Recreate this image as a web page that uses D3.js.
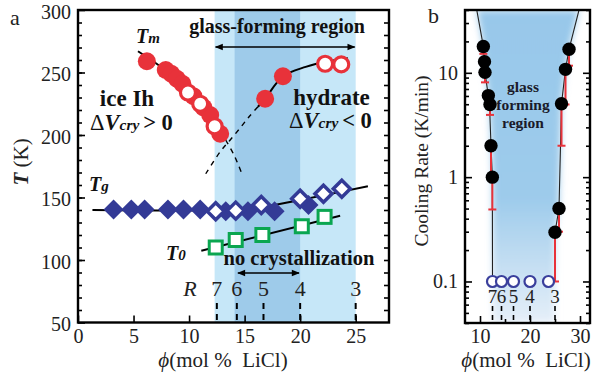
<!DOCTYPE html>
<html>
<head>
<meta charset="utf-8">
<script src="https://cdn.jsdelivr.net/npm/d3@7"></script>
<style>
  body { margin: 0; background: #fff; }
  svg { font-family: "Liberation Serif", "Times New Roman", serif; }
</style>
</head>
<body>
<div id="chart"></div>
<script>
// ---- panel a data: [phi (mol% LiCl), T (K)]
const tmIceFilled = [[6.2, 259], [7.9, 252], [8.4, 249], [8.9, 245], [9.4, 241], [10.4, 231], [11.3, 222], [11.9, 216], [12.8, 201]];
const tmIceOpen = [[9.9, 234], [11.0, 225], [12.3, 207]];
const tmHydFilled = [[16.85, 229], [18.45, 247]];
const tmHydOpen = [[22.25, 257], [23.7, 256.5]];
const tgFilled = [[3.2, 140.5], [4.8, 140.5], [6.0, 140.5], [8.1, 140.5], [9.5, 140.5], [11.0, 140.5], [13.3, 139], [15.3, 139], [17.7, 139], [20.75, 144]];
const tgOpen = [[12.4, 139], [14.2, 139.5], [16.5, 144], [20.0, 149], [22.1, 153], [23.75, 157]];
const t0Open = [[12.4, 110], [14.2, 116], [16.6, 120], [20.15, 127], [22.2, 134.5]];

// fitted guide curves
const iceFitSolid = [[5.4, 267], [8, 251], [10, 235], [12, 213], [13.3, 196]];
const iceFitDash = [[13.3, 196], [14.1, 183], [14.8, 168]];
const hydFitDash = [[11.5, 169], [12.8, 186.6], [13.7, 196], [14.6, 205.6], [15.4, 214.6], [16.2, 222.6]];
const hydFitSolid = [[16.2, 222.6], [16.85, 229], [18.45, 247], [20.5, 254.5], [22.5, 259], [24.3, 261.5]];
const tgFit = [[1.3, 140], [13, 140], [16, 141.5], [20, 148], [26.1, 159]];
const t0Fit = [[11.1, 107.4], [23.6, 135.4]];

const lightBand = [12.3, 25];
const darkBand = [14.1, 20];
const rValues = [7, 6, 5, 4, 3];
const rPhi = [12.5, 14.3, 16.7, 20, 25];

// ---- panel b data: [phi, cooling rate (K/min), lower error]
const rateLeft = [[10.67, 17.9, 15.2], [10.9, 12.8, 10.3], [11.0, 10.1, 8.1], [11.67, 6.05, null], [12.0, 4.97, 3.95], [12.2, 2.0, 1.0], [12.47, 1.0, 0.49]];
const rateRight = [[27.8, 16.8, 11.7], [27.1, 10.8, 4.97], [26.3, 5.05, 2.0], [25.8, 0.5, 0.3], [25.0, 0.296, 0.1]];
const boundLeft = [[9.35, 40], [10.67, 17.9], [11.0, 10.1], [11.9, 5], [12.2, 2.0], [12.47, 1.0], [12.5, 0.1]];
const boundRight = [[29.8, 40], [27.8, 16.8], [27.1, 10.8], [26.3, 5.05], [25.8, 0.5], [25.0, 0.296], [24.95, 0.1]];
const noCryst = [12.5, 14.3, 16.7, 20, 23.7];
const rateTicks = [0.1, 1, 10];

const W = 592, H = 378;
const red = "#e8323a", navy = "#333a96", green = "#0aa650";
const xTitle = "(mol %\u00A0 LiCl)";

const svg = d3.select("#chart").append("svg")
  .attr("width", W).attr("height", H).attr("viewBox", [0, 0, W, H]);

// ================= panel a =================
const x = d3.scaleLinear().domain([0, 28]).range([78, 389]);
const y = d3.scaleLinear().domain([50, 300]).range([322.5, 10]);

const a = svg.append("g");
a.append("rect").attr("x", x(lightBand[0])).attr("y", y(300))
  .attr("width", x(lightBand[1]) - x(lightBand[0])).attr("height", y(50) - y(300))
  .attr("fill", "#c6e7f8");
a.append("rect").attr("x", x(darkBand[0])).attr("y", y(300))
  .attr("width", x(darkBand[1]) - x(darkBand[0])).attr("height", y(50) - y(300))
  .attr("fill", "#9ecbea");

// axes
a.append("g").attr("transform", `translate(${x(0)},0)`)
  .call(d3.axisLeft(y).tickValues(d3.range(60, 300, 10)).tickSize(-4).tickFormat(""))
  .call(g => g.select(".domain").remove());
a.append("g").attr("transform", `translate(${x(0)},0)`)
  .call(d3.axisLeft(y).tickValues(d3.range(50, 301, 50)).tickSize(-7).tickPadding(7))
  .call(g => g.select(".domain").remove())
  .call(g => g.selectAll("text").attr("font-size", 20).attr("dy", "0.4em").attr("fill", "#222").attr("font-family", "Liberation Serif"));
a.append("g").attr("transform", `translate(${x(28)},0)`)
  .call(d3.axisRight(y).tickValues(d3.range(60, 300, 10)).tickSize(-5).tickFormat(""))
  .call(g => g.select(".domain").remove());
a.append("g").attr("transform", `translate(0,${y(50)})`)
  .call(d3.axisBottom(x).tickValues(d3.range(0, 26, 5)).tickSize(-7).tickPadding(6))
  .call(g => g.select(".domain").remove())
  .call(g => g.selectAll("text").attr("font-size", 20).attr("fill", "#222").attr("font-family", "Liberation Serif"));
a.selectAll(".tick line").attr("stroke-width", 1.6);

// R dashed ticks and labels
a.selectAll(".rtick").data(rPhi).join("line")
  .attr("x1", d => x(d)).attr("x2", d => x(d)).attr("y1", 303).attr("y2", y(50))
  .attr("stroke", "#000").attr("stroke-width", 2).attr("stroke-dasharray", "6,5");
a.selectAll(".rlab").data(rValues).join("text")
  .attr("x", (d, i) => x(rPhi[i])).attr("y", 296).attr("text-anchor", "middle")
  .attr("font-size", 22).attr("fill", "#222").text(d => d);
a.append("text").attr("x", 190).attr("y", 296).attr("text-anchor", "middle")
  .attr("font-size", 22).attr("font-style", "italic").attr("fill", "#222").text("R");

// guide curves
const line = d3.line().x(d => x(d[0])).y(d => y(d[1])).curve(d3.curveCatmullRom);
a.append("path").attr("d", line(iceFitSolid)).attr("fill", "none").attr("stroke", "#000").attr("stroke-width", 2);
a.append("path").attr("d", line(iceFitDash)).attr("fill", "none").attr("stroke", "#000").attr("stroke-width", 1.4).attr("stroke-dasharray", "5,5");
a.append("path").attr("d", line(hydFitDash)).attr("fill", "none").attr("stroke", "#000").attr("stroke-width", 1.4).attr("stroke-dasharray", "5,5");
a.append("path").attr("d", line(hydFitSolid)).attr("fill", "none").attr("stroke", "#000").attr("stroke-width", 2);
a.append("path").attr("d", line(tgFit)).attr("fill", "none").attr("stroke", "#000").attr("stroke-width", 2);
a.append("path").attr("d", line(t0Fit)).attr("fill", "none").attr("stroke", "#000").attr("stroke-width", 2);

// markers
const diamond = r => `M0,${-r}L${r},0L0,${r}L${-r},0Z`;
a.selectAll(".tgf").data(tgFilled).join("path")
  .attr("transform", d => `translate(${x(d[0])},${y(d[1])})`).attr("d", diamond(10)).attr("fill", navy);
a.selectAll(".tgo").data(tgOpen).join("path")
  .attr("transform", d => `translate(${x(d[0])},${y(d[1])})`).attr("d", diamond(8.5))
  .attr("fill", "#fff").attr("stroke", navy).attr("stroke-width", 3.5).attr("stroke-linejoin", "miter");
a.selectAll(".t0").data(t0Open).join("rect")
  .attr("x", d => x(d[0]) - 6.5).attr("y", d => y(d[1]) - 6.5).attr("width", 13).attr("height", 13)
  .attr("fill", "#fff").attr("stroke", green).attr("stroke-width", 3);
a.selectAll(".tmf").data(tmIceFilled.concat(tmHydFilled)).join("circle")
  .attr("cx", d => x(d[0])).attr("cy", d => y(d[1])).attr("r", 9).attr("fill", red);
a.selectAll(".tmo").data(tmIceOpen.concat(tmHydOpen)).join("circle")
  .attr("cx", d => x(d[0])).attr("cy", d => y(d[1])).attr("r", 7.5)
  .attr("fill", "#fff").attr("stroke", red).attr("stroke-width", 3.2);

// arrows
const defs = svg.append("defs");
defs.append("marker").attr("id", "ah").attr("viewBox", "0 -5 10 10").attr("refX", 9).attr("refY", 0)
  .attr("markerWidth", 10).attr("markerHeight", 8).attr("markerUnits", "userSpaceOnUse").attr("orient", "auto-start-reverse")
  .append("path").attr("d", "M0,-4L10,0L0,4Z").attr("fill", "#000");
a.append("line").attr("x1", x(lightBand[0]) + 1).attr("x2", x(lightBand[1]) - 1).attr("y1", 47).attr("y2", 47)
  .attr("stroke", "#000").attr("stroke-width", 1.5).attr("marker-start", "url(#ah)").attr("marker-end", "url(#ah)");
a.append("line").attr("x1", x(14.4)).attr("x2", x(19.9)).attr("y1", 273).attr("y2", 273)
  .attr("stroke", "#000").attr("stroke-width", 1.5).attr("marker-start", "url(#ah)").attr("marker-end", "url(#ah)");

// labels
const lab = (px, py, size, parts, anchor) => {
  const t = a.append("text").attr("x", px).attr("y", py).attr("font-size", size)
    .attr("font-weight", "bold").attr("fill", "#111").attr("text-anchor", anchor || "start");
  parts.forEach(p => {
    const s = t.append("tspan").text(p.t);
    if (p.i) s.attr("font-style", "italic");
    if (p.s) s.attr("font-size", p.s);
    if (p.w) s.attr("font-weight", p.w);
  });
  return t;
};
lab(277, 33, 20, [{ t: "glass-forming region" }], "middle");
lab(127, 106, 23, [{ t: "ice Ih" }], "middle");
lab(90, 130, 22.5, [{ t: "Δ", w: "normal" }, { t: "V", i: 1 }, { t: "cry ", i: 1, s: 15.5 }, { t: "> 0" }]);
lab(331.5, 105, 23, [{ t: "hydrate" }], "middle");
lab(289, 128, 22.5, [{ t: "Δ", w: "normal" }, { t: "V", i: 1 }, { t: "cry ", i: 1, s: 15.5 }, { t: "< 0" }]);
lab(299, 265, 20.5, [{ t: "no crystallization" }], "middle");
lab(136, 43, 20, [{ t: "T", i: 1 }, { t: "m", i: 1, s: 15 }]);
lab(89, 191, 20, [{ t: "T", i: 1 }, { t: "g", i: 1, s: 15 }]);
lab(166, 260, 20, [{ t: "T", i: 1 }, { t: "0", i: 1, s: 15 }]);

a.append("text").attr("transform", "translate(28,162) rotate(-90)").attr("text-anchor", "middle")
  .attr("font-size", 21).attr("fill", "#222")
  .call(t => { t.append("tspan").attr("font-style", "italic").attr("font-weight", "bold").text("T"); t.append("tspan").text(" (K)"); });
a.append("text").attr("x", 223).attr("y", 367).attr("text-anchor", "middle").attr("font-size", 21).attr("fill", "#222")
  .call(t => { t.append("tspan").attr("font-style", "italic").text("ϕ"); t.append("tspan").text(xTitle); });
svg.append("text").attr("x", 10).attr("y", 25).attr("font-size", 22).attr("fill", "#222").text("a");

a.append("rect").attr("x", x(0)).attr("y", y(300)).attr("width", x(28) - x(0)).attr("height", y(50) - y(300))
  .attr("fill", "none").attr("stroke", "#000").attr("stroke-width", 2.4);

// ================= panel b =================
const xr = d3.scaleLinear().domain([7, 32]).range([465, 590]);
const yr = d3.scaleLog().domain([0.04, 40]).range([323, 10]);
const b = svg.append("g");

defs.append("clipPath").attr("id", "clipb").append("rect")
  .attr("x", xr(7)).attr("y", yr(40)).attr("width", xr(32) - xr(7)).attr("height", yr(0.04) - yr(40));
const grad = defs.append("linearGradient").attr("id", "gb")
  .attr("gradientUnits", "userSpaceOnUse").attr("x1", 0).attr("x2", 0).attr("y1", yr(40)).attr("y2", yr(0.04));
grad.append("stop").attr("offset", 0).attr("stop-color", "#98c8ea");
grad.append("stop").attr("offset", 0.6).attr("stop-color", "#9dcbeb");
grad.append("stop").attr("offset", 1).attr("stop-color", "#e6eff9");
defs.append("filter").attr("id", "blur").attr("x", -0.2).attr("y", -0.2).attr("width", 1.4).attr("height", 1.4)
  .append("feGaussianBlur").attr("stdDeviation", 3.5);

const region = boundLeft.concat([[boundLeft[boundLeft.length - 1][0], 0.04], [boundRight[boundRight.length - 1][0], 0.04]])
  .concat(boundRight.slice().reverse());
const lr = d3.line().x(d => xr(d[0])).y(d => yr(d[1]));
b.append("g").attr("clip-path", "url(#clipb)")
  .append("path").attr("d", lr(region) + "Z").attr("fill", "url(#gb)").attr("filter", "url(#blur)");

// axes
const minorLog = [];
[0.01, 0.1, 1, 10].forEach(p => d3.range(2, 10).forEach(k => { const v = p * k; if (v >= 0.04 && v <= 40) minorLog.push(v); }));
[[d3.axisLeft, xr(7), -1], [d3.axisRight, xr(32), 1]].forEach(([ax, px, side]) => {
  b.append("g").attr("transform", `translate(${px},0)`)
    .call(ax(yr).tickValues(minorLog).tickSize(-4).tickFormat(""))
    .call(g => g.select(".domain").remove());
  b.append("g").attr("transform", `translate(${px},0)`)
    .call(ax(yr).tickValues(rateTicks).tickSize(-7).tickPadding(7).tickFormat(side < 0 ? d3.format("~g") : ""))
    .call(g => g.select(".domain").remove())
    .call(g => g.selectAll("text").attr("font-size", 20).attr("fill", "#222").attr("font-family", "Liberation Serif"));
});
b.append("g").attr("transform", `translate(0,${yr(0.04)})`)
  .call(d3.axisBottom(xr).tickValues([15, 25]).tickSize(-4).tickFormat(""))
  .call(g => g.select(".domain").remove());
b.append("g").attr("transform", `translate(0,${yr(0.04)})`)
  .call(d3.axisBottom(xr).tickValues([10, 20, 30]).tickSize(-7).tickPadding(6))
  .call(g => g.select(".domain").remove())
  .call(g => g.selectAll("text").attr("font-size", 20).attr("fill", "#222").attr("font-family", "Liberation Serif"));
b.selectAll(".tick line").attr("stroke-width", 1.6);

// R ticks
b.selectAll(".rtick").data(rPhi).join("line")
  .attr("x1", d => xr(d)).attr("x2", d => xr(d)).attr("y1", 306).attr("y2", yr(0.04))
  .attr("stroke", "#000").attr("stroke-width", 1.6).attr("stroke-dasharray", "5,4");
b.selectAll(".rlab").data(rValues).join("text")
  .attr("x", (d, i) => xr(rPhi[i])).attr("y", 303).attr("text-anchor", "middle")
  .attr("font-size", 19).attr("fill", "#222").text(d => d);

// boundary lines
b.append("g").attr("clip-path", "url(#clipb)").selectAll("path").data([boundLeft, boundRight]).join("path")
  .attr("d", lr).attr("fill", "none").attr("stroke", "#222").attr("stroke-width", 1.1);

// error bars
const pts = rateLeft.concat(rateRight);
b.selectAll(".eb").data(pts.filter(d => d[2] !== null)).join("g").each(function (d) {
  const g = d3.select(this);
  g.append("line").attr("x1", xr(d[0])).attr("x2", xr(d[0])).attr("y1", yr(d[1])).attr("y2", yr(d[2]))
    .attr("stroke", "#e8323a").attr("stroke-width", 2);
  g.append("line").attr("x1", xr(d[0]) - 4).attr("x2", xr(d[0]) + 4).attr("y1", yr(d[2])).attr("y2", yr(d[2]))
    .attr("stroke", "#e8323a").attr("stroke-width", 2);
});
b.selectAll(".pt").data(pts).join("circle")
  .attr("cx", d => xr(d[0])).attr("cy", d => yr(d[1])).attr("r", 6.7).attr("fill", "#000");
b.selectAll(".nc").data(noCryst).join("circle")
  .attr("cx", d => xr(d)).attr("cy", yr(0.1)).attr("r", 5.5)
  .attr("fill", "#fff").attr("stroke", "#3a3f9c").attr("stroke-width", 2.2);

["glass", "forming", "region"].forEach((s, i) => {
  b.append("text").attr("x", 523).attr("y", 92 + i * 18).attr("text-anchor", "middle").attr("font-size", 15.5)
    .attr("font-weight", "bold").attr("fill", "#1a1a2a").text(s);
});

b.append("text").attr("transform", "translate(428,161) rotate(-90)").attr("text-anchor", "middle")
  .attr("font-size", 19.5).attr("fill", "#222").text("Cooling Rate (K/min)");
b.append("text").attr("x", 526).attr("y", 367).attr("text-anchor", "middle").attr("font-size", 21).attr("fill", "#222")
  .call(t => { t.append("tspan").attr("font-style", "italic").text("ϕ"); t.append("tspan").text(xTitle); });
svg.append("text").attr("x", 428).attr("y", 23).attr("font-size", 22).attr("fill", "#222").text("b");

b.append("rect").attr("x", xr(7)).attr("y", yr(40)).attr("width", xr(32) - xr(7)).attr("height", yr(0.04) - yr(40))
  .attr("fill", "none").attr("stroke", "#000").attr("stroke-width", 2.4);
</script>
</body>
</html>
